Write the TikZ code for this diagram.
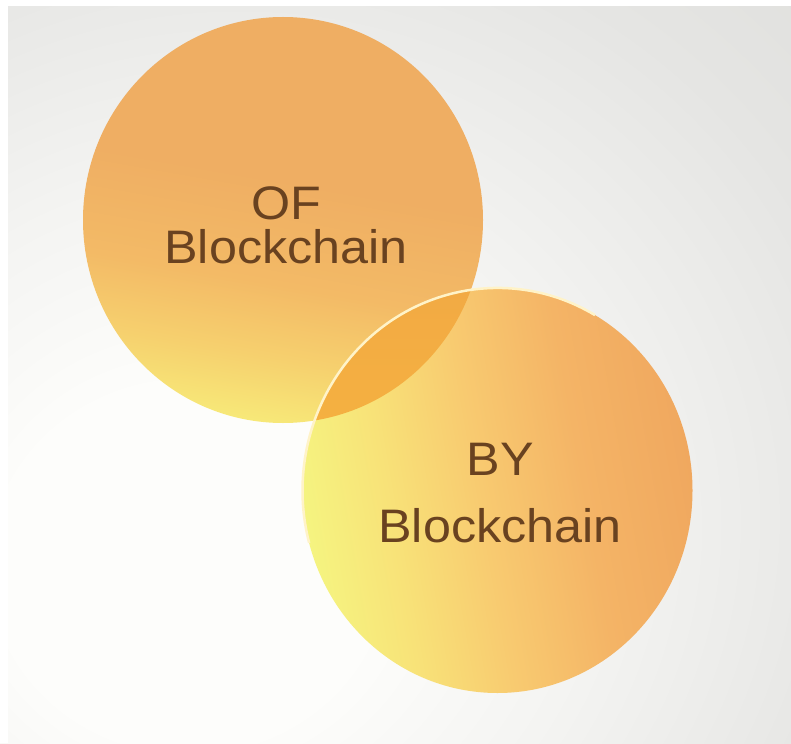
\documentclass[tikz,border=0pt]{standalone}
\usepackage{fontspec}
\setmainfont{Liberation Sans}
\definecolor{txt}{RGB}{105,66,32}
\definecolor{bgW}{RGB}{253,253,251}
\definecolor{bgA}{RGB}{244,244,242}
\definecolor{bgB}{RGB}{229,229,227}
\definecolor{bgC}{RGB}{219,219,216}
\definecolor{oY}{RGB}{247,232,120}
\definecolor{oM}{RGB}{246,208,110}
\definecolor{oO}{RGB}{243,186,102}
\definecolor{oT}{RGB}{239,174,99}
\definecolor{tY}{RGB}{245,244,128}
\definecolor{tM}{RGB}{248,226,120}
\definecolor{tO}{RGB}{248,202,112}
\definecolor{tR}{RGB}{244,180,102}
\definecolor{tE}{RGB}{240,168,95}
\definecolor{lensA}{RGB}{242,170,68}
\definecolor{lensB}{RGB}{250,190,58}
\definecolor{rim}{RGB}{255,243,200}
\pgfdeclareradialshading{bgshade}{\pgfpoint{-15bp}{-15bp}}{color(0bp)=(bgW); color(12bp)=(bgW); color(24bp)=(bgA); color(40bp)=(bgB); color(58bp)=(bgC); color(100bp)=(bgC)}
\pgfdeclareverticalshading{oneshade}{100bp}{color(0bp)=(oY); color(25bp)=(oY); color(33bp)=(oM); color(42bp)=(oO); color(55bp)=(oT); color(100bp)=(oT)}
\pgfdeclarehorizontalshading{twoshade}{100bp}{color(0bp)=(tY); color(25bp)=(tY); color(36bp)=(tM); color(48bp)=(tO); color(61bp)=(tR); color(75bp)=(tE); color(100bp)=(tE)}
\tikzset{
  lbl/.style={text=txt, align=center, inner sep=0pt, xscale=1.07},
  rimline/.style={draw=rim, line width=2.5pt}
}
\begin{document}
\begin{tikzpicture}[x=1pt,y=-1pt]
\useasboundingbox (0,0) rectangle (791,743);
\shade[shading=bgshade] (0,0) rectangle (791,743);
\fill[white] (0,0) rectangle (791,6);
\fill[white] (0,0) rectangle (8,743);
% circle one
\shade[shading=oneshade, shading angle=-10] (283,220) ellipse [x radius=200, y radius=203];
% circle two
\shade[shading=twoshade, shading angle=10] (497.5,490.5) ellipse [x radius=195, y radius=202.5];
% lens
\begin{scope}
  \clip (283,220) ellipse [x radius=200, y radius=203];
  \shade[top color=lensA, bottom color=lensB] (497.5,490.5) ellipse [x radius=195, y radius=202.5];
\end{scope}
% rim of circle two
\coordinate (rimstart) at (595,315.1);
\draw[rimline] (rimstart) arc [start angle=-60, end angle=-195, x radius=195, y radius=202.5];
% labels
\node[lbl, font=\fontsize{47}{44}\selectfont] (of) at (286,225) {OF\\Blockchain};
\node[lbl, font=\fontsize{47}{67}\selectfont] (by) at (500,493) {BY\\Blockchain};
\end{tikzpicture}
\end{document}
